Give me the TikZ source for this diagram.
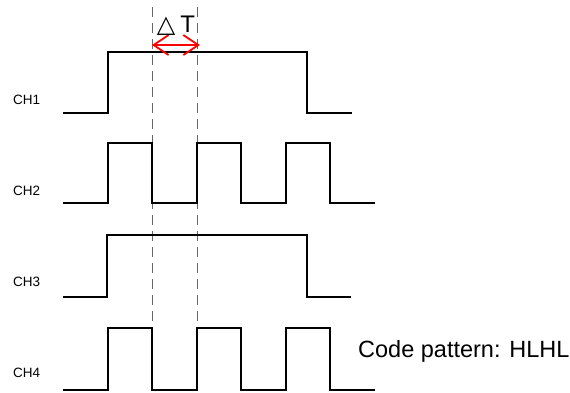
\documentclass[tikz,border=0pt]{standalone}
\usepackage{fontspec}
\setmainfont{Liberation Sans}
\newfontfamily\symfont{DejaVu Sans}
\usetikzlibrary{arrows.meta}

\tikzset{
  wave/.style={line width=1.6pt, line join=miter},
  guide/.style={gray!80!black, line width=0.8pt, dash pattern=on 10pt off 6pt},
  chlabel/.style={anchor=base west, inner sep=0pt, font=\fontsize{13.5}{14}\selectfont},
}

\begin{document}
\begin{tikzpicture}[x=1pt,y=-1pt]
\useasboundingbox (0,0) rectangle (570,392);

% Dashed time markers
\draw[guide] (152,7) -- (152,328);
\draw[guide] (197,7) -- (197,328);

% CH1 waveform
\draw[wave] (63,113) -- (108,113) -- (108,52) -- (307,52) -- (307,113) -- (352,113);
\node[chlabel] (ch1) at (13,104) {CH1};

% CH2 waveform
\draw[wave] (63,203) -- (108,203) -- (108,143) -- (152,143) -- (152,203) -- (197,203)
  -- (197,143) -- (241,143) -- (241,203) -- (286,203) -- (286,143) -- (330,143)
  -- (330,203) -- (375,203);
\node[chlabel] (ch2) at (13,195) {CH2};

% CH3 waveform
\draw[wave] (63,297) -- (107,297) -- (107,235) -- (307,235) -- (307,297) -- (351,297);
\node[chlabel] (ch3) at (13,286) {CH3};

% CH4 waveform
\draw[wave] (63,390) -- (108,390) -- (108,328) -- (152,328) -- (152,390) -- (197,390)
  -- (197,328) -- (241,328) -- (241,390) -- (286,390) -- (286,328) -- (330,328)
  -- (330,390) -- (375,390);
\node[chlabel] (ch4) at (13,377) {CH4};

% Delta T marker
\coordinate (dtl) at (152,45);
\coordinate (dtr) at (200,45);
\draw[red, line width=1.8pt, {Straight Barb[length=15pt,width=20pt]}-{Straight Barb[length=15pt,width=20pt]}] (dtl) -- (dtr);
\node[anchor=base, inner sep=0pt] (dt) at (176,32) {{\symfont\fontsize{24}{24}\selectfont △}\hspace{5pt}\fontsize{24}{24}\selectfont T};

% Pattern caption
\node[anchor=base west, inner sep=0pt, font=\fontsize{23.5}{24}\selectfont] (code) at (358,357) {Code pattern: HLHL};
\end{tikzpicture}
\end{document}
